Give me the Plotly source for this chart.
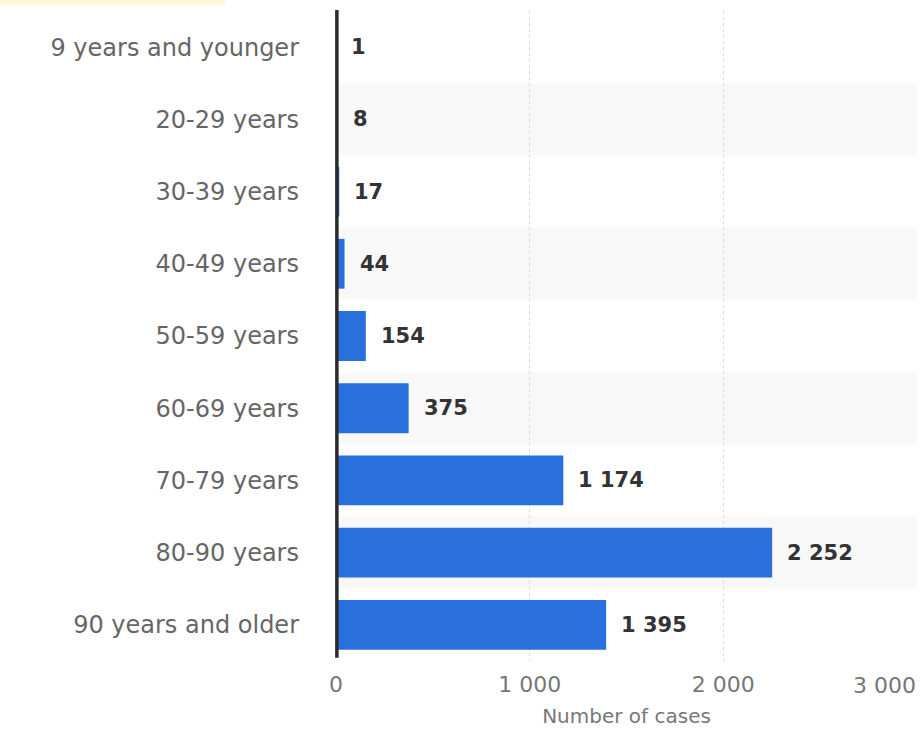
import plotly.graph_objects as go

categories = ["9 years and younger", "20-29 years", "30-39 years", "40-49 years",
              "50-59 years", "60-69 years", "70-79 years", "80-90 years", "90 years and older"]
values = [1, 8, 17, 44, 154, 375, 1174, 2252, 1395]
x_tick_vals = [0, 1000, 2000, 3000]
x_tick_text = ["0", "1 000", "2 000", ""]
last_tick_label = "3 000"
x_title = "Number of cases"

def fmt(v):
    return f"{v:,}".replace(",", " ")

FONT = "DejaVu Sans"
fig = go.Figure()
fig.add_trace(go.Bar(
    x=values, y=categories, orientation="h",
    marker=dict(color="#2a70dc", line=dict(width=0)),
    width=0.69, hoverinfo="skip",
))

shapes = []
for i, c in enumerate(categories):
    if i % 2 == 1:
        shapes.append(dict(type="rect", xref="x", yref="y", x0=0, x1=3000,
                           y0=i - 0.5, y1=i + 0.5, fillcolor="#f8f8f8",
                           line=dict(width=0), layer="below"))
# axis line at zero, drawn above the bars (paper-referenced so it is not clipped)
shapes.append(dict(type="line", xref="paper", yref="paper", x0=0.0015, x1=0.0015,
                   y0=0.005, y1=1.0015,
                   line=dict(color="#2b2b2b", width=3.5), layer="above"))
# faint highlight at the very top-left of the picture
shapes.append(dict(type="rect", xref="paper", yref="paper", x0=-0.578, x1=-0.191,
                   y0=1.0092, y1=1.0169, fillcolor="#fdf8dc", line=dict(width=0), layer="below"))

annotations = []
for c, v in zip(categories, values):
    annotations.append(dict(x=v, y=c, xref="x", yref="y", text=fmt(v), showarrow=False,
                            xanchor="left", xshift=13,
                            font=dict(family=FONT, size=21, color="#333333", weight="bold")))
annotations.append(dict(x=3000, y=0, xref="x", yref="paper", text=last_tick_label,
                        showarrow=False, xanchor="right", yanchor="middle", yshift=-24, xshift=1,
                        font=dict(family=FONT, size=22, color="#777777")))

fig.update_layout(
    width=924, height=729,
    margin=dict(l=336, r=7, t=11, b=68),
    paper_bgcolor="white", plot_bgcolor="white",
    showlegend=False,
    shapes=shapes, annotations=annotations,
    xaxis=dict(range=[0, 3000], tickvals=x_tick_vals, ticktext=x_tick_text,
               showgrid=True, gridcolor="#d9d9d9", griddash="dot", gridwidth=1,
               zeroline=False, showline=False, ticks="",
               ticklabelstandoff=8,
               tickfont=dict(family=FONT, size=22, color="#777777"),
               title=dict(text=x_title, font=dict(family=FONT, size=20, color="#777777"), standoff=12),
               automargin=False,
               fixedrange=True),
    yaxis=dict(categoryorder="array", categoryarray=categories, autorange="reversed",
               showgrid=False, zeroline=False, showline=False, ticks="",
               ticklabelstandoff=36,
               tickfont=dict(family=FONT, size=24, color="#666666"),
               automargin=False,
               fixedrange=True),
)

fig.write_html("out.html")
